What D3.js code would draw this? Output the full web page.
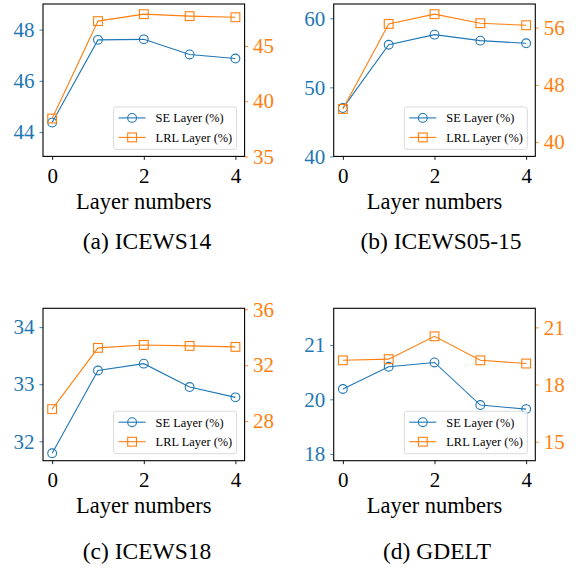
<!DOCTYPE html>
<html>
<head>
<meta charset="utf-8">
<script src="https://cdn.jsdelivr.net/npm/d3@7/dist/d3.min.js"></script>
<style>
  html, body { margin: 0; padding: 0; background: #fff; }
  svg { display: block; }
</style>
</head>
<body>
<svg id="chart" width="576" height="568"></svg>
<script>
// Layer count on the x axis
const layers = [0, 1, 2, 3, 4];
const xTicks = [0, 2, 4];

// ICEWS14
const seICEWS14  = [44.37, 47.60, 47.62, 47.03, 46.87];
const lrlICEWS14 = [38.43, 47.25, 47.88, 47.70, 47.60];
const leftTicksICEWS14  = [44, 46, 48];
const rightTicksICEWS14 = [35, 40, 45];

// ICEWS05-15
const seICEWS0515  = [47.00, 56.17, 57.63, 56.76, 56.38];
const lrlICEWS0515 = [44.63, 56.52, 57.88, 56.62, 56.33];
const leftTicksICEWS0515  = [40, 50, 60];
const rightTicksICEWS0515 = [40, 48, 56];

// ICEWS18
const seICEWS18  = [31.79, 33.24, 33.36, 32.95, 32.77];
const lrlICEWS18 = [28.86, 33.24, 33.45, 33.38, 33.31];
const leftTicksICEWS18  = [32, 33, 34];
const rightTicksICEWS18 = [28, 32, 36];

// GDELT
const seGDELT  = [20.19, 20.60, 20.68, 19.79, 19.64];
const lrlGDELT = [19.27, 19.33, 20.53, 19.27, 19.10];
const leftTicksGDELT  = [18, 20, 21];
const rightTicksGDELT = [15, 18, 21];

const seLabel = "SE Layer (%)";
const lrlLabel = "LRL Layer (%)";
const xLabel = "Layer numbers";

const BLUE = "#1f77b4";
const ORANGE = "#ff7f0e";
const FONT = "'Liberation Serif', Tinos, 'Times New Roman', 'DejaVu Serif', serif";
const TICK_SIZE = 21;

const panels = [
  { caption: "(a) ICEWS14", se: seICEWS14, lrl: lrlICEWS14,
    left: leftTicksICEWS14, right: rightTicksICEWS14,
    leftDomain: [43.05, 49.0], rightDomain: [35, 48.8],
    x0: 43, y0: 4, capX: 147, capY: 249 },
  { caption: "(b) ICEWS05-15", se: seICEWS0515, lrl: lrlICEWS0515,
    left: leftTicksICEWS0515, right: rightTicksICEWS0515,
    leftDomain: [40, 62.07], rightDomain: [38.0, 59.3],
    x0: 333.7, y0: 4, capX: 441, capY: 249 },
  { caption: "(c) ICEWS18", se: seICEWS18, lrl: lrlICEWS18,
    left: leftTicksICEWS18, right: rightTicksICEWS18,
    leftDomain: [31.66, 34.33], rightDomain: [25.17, 36.07],
    x0: 43, y0: 308.3, capX: 147, capY: 559 },
  { caption: "(d) GDELT", se: seGDELT, lrl: lrlGDELT,
    left: leftTicksGDELT, right: rightTicksGDELT,
    // the left axis is uneven: ticks 18-20 sit closer than 20-21
    leftDomain: [17.75, 20, 21.68], rightDomain: [14.0, 22.0],
    x0: 333.7, y0: 308.3, capX: 437, capY: 559 }
];

const W = 201.6, H = 152.4;
const svg = d3.select("#chart").attr("font-family", FONT);

function styleAxis(ax, color) {
  ax.attr("font-family", FONT).attr("font-size", TICK_SIZE);
  ax.select(".domain").remove();
  ax.selectAll("line").attr("stroke", color).attr("stroke-width", 0.9);
  ax.selectAll("text").attr("font-family", FONT).attr("font-size", TICK_SIZE).attr("fill", color);
}

panels.forEach(p => {
  const g = svg.append("g").attr("transform", `translate(${p.x0},${p.y0})`);

  const x = d3.scaleLinear().domain([-0.2, 4.2]).range([0, W]);
  const yL = d3.scaleLinear().domain(p.leftDomain)
    .range(p.leftDomain.length === 3 ? [H, H - 61.4, 0] : [H, 0]);
  const yR = d3.scaleLinear().domain(p.rightDomain).range([H, 0]);

  // axes
  const axB = g.append("g").attr("transform", `translate(0,${H})`)
    .call(d3.axisBottom(x).tickValues(xTicks).tickFormat(d3.format("d"))
      .tickSize(3.5).tickPadding(8));
  styleAxis(axB, "#000");

  const axL = g.append("g")
    .call(d3.axisLeft(yL).tickValues(p.left).tickFormat(d3.format("d"))
      .tickSize(3.5).tickPadding(5));
  styleAxis(axL, BLUE);

  const axR = g.append("g").attr("transform", `translate(${W},0)`)
    .call(d3.axisRight(yR).tickValues(p.right).tickFormat(d3.format("d"))
      .tickSize(3.5).tickPadding(5));
  styleAxis(axR, ORANGE);

  // series
  const lineL = d3.line().x((d, i) => x(layers[i])).y(d => yL(d));
  const lineR = d3.line().x((d, i) => x(layers[i])).y(d => yR(d));

  g.append("path").datum(p.se).attr("d", lineL)
    .attr("fill", "none").attr("stroke", BLUE).attr("stroke-width", 1.1);
  g.selectAll(".se").data(p.se).enter().append("circle")
    .attr("cx", (d, i) => x(layers[i])).attr("cy", d => yL(d)).attr("r", 4.4)
    .attr("fill", "none").attr("stroke", BLUE).attr("stroke-width", 1.1);

  g.append("path").datum(p.lrl).attr("d", lineR)
    .attr("fill", "none").attr("stroke", ORANGE).attr("stroke-width", 1.1);
  g.selectAll(".lrl").data(p.lrl).enter().append("rect")
    .attr("x", (d, i) => x(layers[i]) - 4.4).attr("y", d => yR(d) - 4.4)
    .attr("width", 8.8).attr("height", 8.8)
    .attr("fill", "none").attr("stroke", ORANGE).attr("stroke-width", 1.1);

  // frame
  g.append("rect").attr("width", W).attr("height", H)
    .attr("fill", "none").attr("stroke", "#000").attr("stroke-width", 1.1);

  // legend in lower right
  const lw = 123, lh = 42.5;
  const lg = g.append("g").attr("transform", `translate(${W - 8 - lw},${H - 7 - lh})`);
  lg.append("rect").attr("width", lw).attr("height", lh).attr("rx", 2.5)
    .attr("fill", "#fff").attr("fill-opacity", 0.8)
    .attr("stroke", "#d6d6d6").attr("stroke-width", 0.9);
  const rows = [
    { label: seLabel, color: BLUE, shape: "circle" },
    { label: lrlLabel, color: ORANGE, shape: "square" }
  ];
  rows.forEach((r, k) => {
    const cy = 11 + k * 19.5;
    lg.append("line").attr("x1", 5).attr("x2", 32).attr("y1", cy).attr("y2", cy)
      .attr("stroke", r.color).attr("stroke-width", 1.1);
    if (r.shape === "circle") {
      lg.append("circle").attr("cx", 18.5).attr("cy", cy).attr("r", 4.4)
        .attr("fill", "none").attr("stroke", r.color).attr("stroke-width", 1.1);
    } else {
      lg.append("rect").attr("x", 14.1).attr("y", cy - 4.4)
        .attr("width", 8.8).attr("height", 8.8)
        .attr("fill", "none").attr("stroke", r.color).attr("stroke-width", 1.1);
    }
    lg.append("text").attr("x", 42).attr("y", cy).attr("dy", "0.35em")
      .attr("font-family", FONT).attr("font-size", 12.4).attr("fill", "#000")
      .text(r.label);
  });

  // x axis title
  g.append("text").attr("x", W / 2).attr("y", H + 52.5)
    .attr("text-anchor", "middle").attr("font-family", FONT)
    .attr("font-size", 22.5).attr("fill", "#000")
    .text(xLabel);

  // subfigure caption
  svg.append("text").attr("x", p.capX).attr("y", p.capY)
    .attr("text-anchor", "middle").attr("font-family", FONT)
    .attr("font-size", 23.5).attr("fill", "#000")
    .text(p.caption);
});
</script>
</body>
</html>
